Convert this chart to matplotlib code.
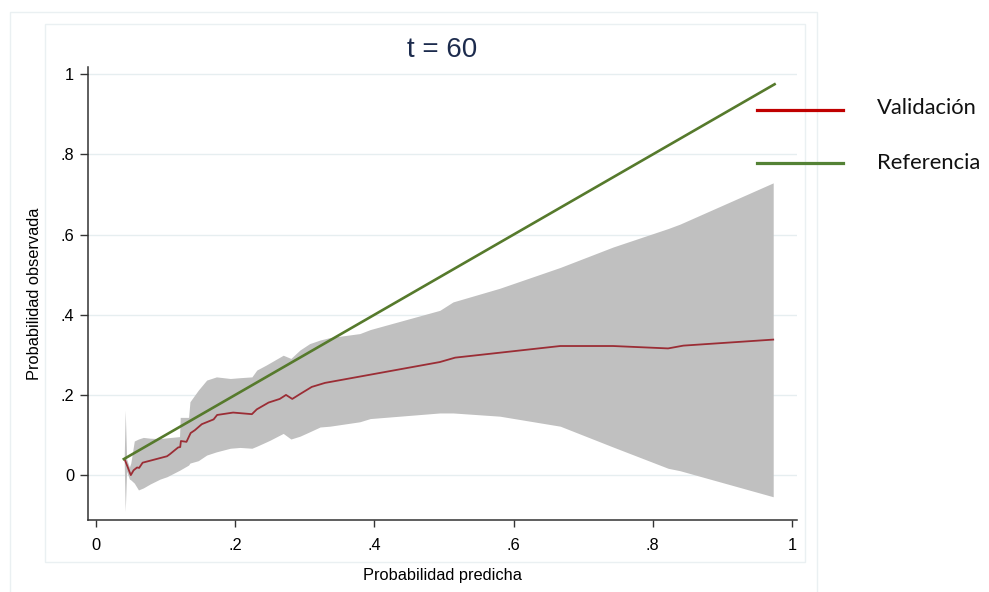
import matplotlib
matplotlib.use("Agg")
import matplotlib.pyplot as plt
from matplotlib.patches import Rectangle
from matplotlib.lines import Line2D
import numpy as np

# Calibration curve at t = 60
val_x = [0.0417, 0.050, 0.054, 0.059, 0.062, 0.067, 0.102, 0.106, 0.118, 0.121,
         0.122, 0.130, 0.136, 0.142, 0.152, 0.169, 0.174, 0.197, 0.224, 0.231,
         0.248, 0.264, 0.273, 0.282, 0.293, 0.310, 0.329, 0.494, 0.516, 0.667,
         0.743, 0.822, 0.844, 0.973]
val_y = [0.037, 0.000, 0.012, 0.019, 0.018, 0.031, 0.047, 0.052, 0.069, 0.070,
         0.085, 0.083, 0.105, 0.112, 0.127, 0.139, 0.150, 0.156, 0.152, 0.164,
         0.181, 0.190, 0.200, 0.190, 0.202, 0.220, 0.230, 0.282, 0.293, 0.322,
         0.322, 0.316, 0.323, 0.338]

# Confidence band
ci_x = [0.0405, 0.0420, 0.0440, 0.048, 0.050, 0.055, 0.061, 0.068, 0.078, 0.092,
        0.102, 0.120, 0.121, 0.133, 0.135, 0.147, 0.159, 0.173, 0.193, 0.207,
        0.224, 0.231, 0.245, 0.250, 0.269, 0.280, 0.293, 0.307, 0.322, 0.336,
        0.379, 0.394, 0.494, 0.513, 0.580, 0.667, 0.743, 0.822, 0.839, 0.973]
ci_lo = [0.035, -0.091, 0.010, -0.010, -0.012, -0.020, -0.037, -0.032, -0.022, -0.010,
         -0.004, 0.012, 0.013, 0.025, 0.030, 0.036, 0.050, 0.058, 0.067, 0.069,
         0.067, 0.072, 0.083, 0.087, 0.104, 0.090, 0.097, 0.108, 0.120, 0.122,
         0.133, 0.141, 0.155, 0.155, 0.147, 0.122, 0.070, 0.017, 0.011, -0.054]
ci_hi = [0.040, 0.162, 0.040, 0.020, 0.030, 0.085, 0.090, 0.094, 0.092, 0.091,
         0.093, 0.096, 0.144, 0.144, 0.183, 0.212, 0.237, 0.245, 0.241, 0.243,
         0.245, 0.262, 0.275, 0.280, 0.299, 0.291, 0.312, 0.328, 0.337, 0.343,
         0.353, 0.363, 0.411, 0.432, 0.466, 0.518, 0.569, 0.615, 0.626, 0.729]

# Reference (perfect calibration) line
ref_x = [0.040, 0.975]
ref_y = [0.040, 0.975]

ticks = [0, 0.2, 0.4, 0.6, 0.8, 1.0]
tick_labels = ["0", ".2", ".4", ".6", ".8", "1"]
legend_labels = ["Validación", "Referencia"]

sans = ["Liberation Sans", "DejaVu Sans"]

W, H = 989, 592
fig = plt.figure(figsize=(W / 100, H / 100), dpi=100)
fig.patch.set_facecolor("white")

frame_col = "#eaf0f2"
# outer graph region and inner plot region frames
fig.add_artist(Rectangle((10 / W, 1 - 640 / H), 807 / W, 628 / H, transform=fig.transFigure,
                         fill=False, edgecolor=frame_col, linewidth=1.0))
fig.add_artist(Rectangle((45 / W, 1 - 562 / H), 760 / W, 538 / H, transform=fig.transFigure,
                         fill=False, edgecolor=frame_col, linewidth=1.0))

ax = fig.add_axes([88 / W, 1 - 520 / H, 709 / W, 453 / H])
ax.set_xlim(-0.0115, 1.0072)
ax.set_ylim(-0.112, 1.018)

for t in ticks:
    ax.axhline(t, color="#e6eef0", linewidth=1.0, zorder=0)

ax.fill_between(ci_x, ci_lo, ci_hi, color="#c0c0c0", linewidth=0, zorder=1)
ax.plot(val_x, val_y, color="#9b2d35", linewidth=1.3, zorder=3)
ax.plot(ref_x, ref_y, color="#567a2c", linewidth=1.9, zorder=4)

for side in ["top", "right"]:
    ax.spines[side].set_visible(False)
for side in ["left", "bottom"]:
    ax.spines[side].set_color("#333333")
    ax.spines[side].set_linewidth(1.1)

ax.set_xticks(ticks)
ax.set_xticklabels(tick_labels, fontfamily=sans, fontsize=11.8)
ax.set_yticks(ticks)
ax.set_yticklabels(tick_labels, fontfamily=sans, fontsize=11.8)
ax.tick_params(axis="x", direction="out", length=5, width=1.0, color="#333333", pad=8)
ax.tick_params(axis="y", direction="out", length=6, width=1.0, color="#333333", pad=4)

ax.set_xlabel("Probabilidad predicha", fontfamily=sans, fontsize=11.8, labelpad=11)
ax.set_ylabel("Probabilidad observada", fontfamily=sans, fontsize=11.8, labelpad=13)
ax.set_title("t = 60", fontfamily=sans, fontsize=20, color="#1c2b4d", pad=7)

# legend placed to the right of the plot region
leg_font = ["Lato", "DejaVu Sans"]
fig.add_artist(Line2D([757 / W, 843 / W], [1 - 110 / H, 1 - 110 / H], transform=fig.transFigure,
                      color="#c00000", linewidth=2.3))
fig.add_artist(Line2D([757 / W, 843 / W], [1 - 163 / H, 1 - 163 / H], transform=fig.transFigure,
                      color="#548235", linewidth=2.3))
fig.text(877 / W, 1 - 108 / H, legend_labels[0], fontfamily=leg_font, fontsize=15.8,
         va="center", ha="left", color="#111111")
fig.text(877 / W, 1 - 163 / H, legend_labels[1], fontfamily=leg_font, fontsize=15.8,
         va="center", ha="left", color="#111111")

fig.savefig("out.png", dpi=100)
